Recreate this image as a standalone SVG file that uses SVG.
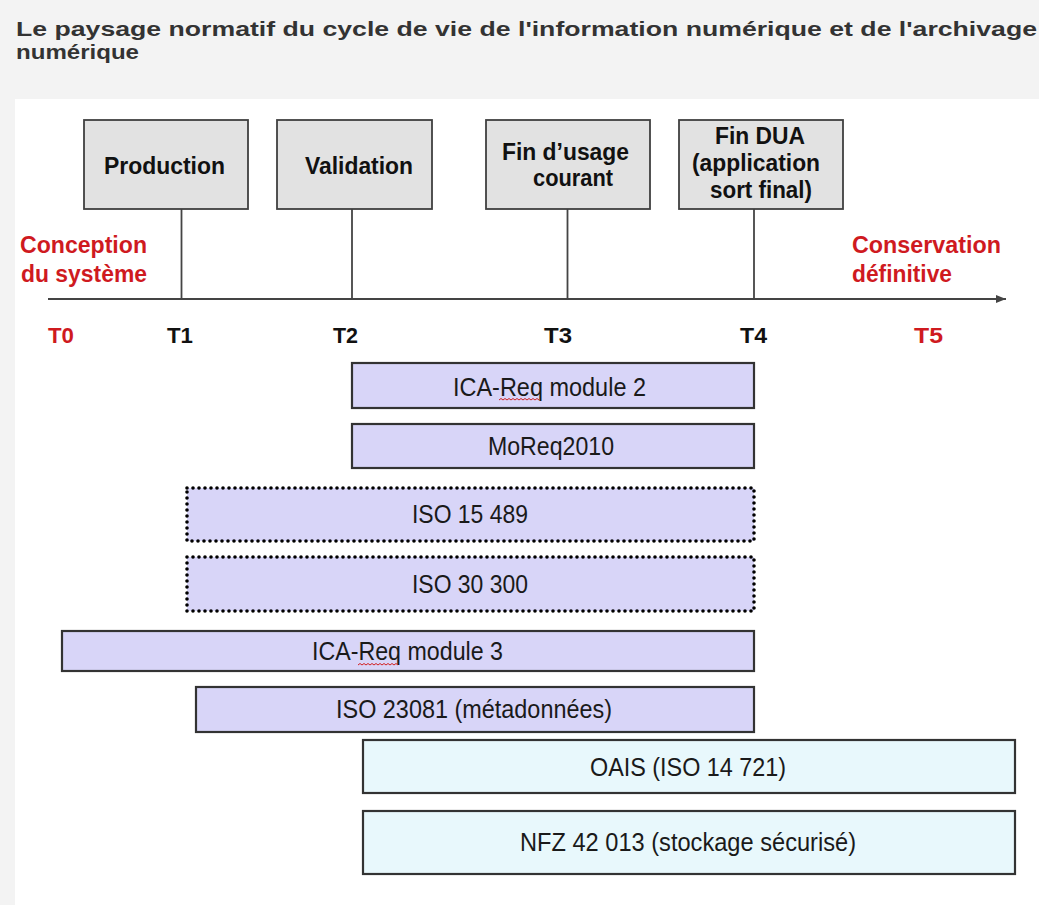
<svg xmlns="http://www.w3.org/2000/svg" width="1039" height="905" viewBox="0 0 1039 905">
<defs>
<style>
.bg{fill:#f3f3f3}
.panel{fill:#ffffff}
.title{font-family:"Liberation Sans",Arial,sans-serif;font-weight:bold;font-size:21px;fill:#333333}
.phase{fill:#e2e2e2;stroke:#404040;stroke-width:1.8}
.phase-t{font-family:"Liberation Sans",Arial,sans-serif;font-weight:bold;font-size:23px;fill:#111111}
.red{font-family:"Liberation Sans",Arial,sans-serif;font-weight:bold;font-size:23px;fill:#cf1a1f}
.tick{font-family:"Liberation Sans",Arial,sans-serif;font-weight:bold;font-size:22px;fill:#111111}
.redt{font-family:"Liberation Sans",Arial,sans-serif;font-weight:bold;font-size:22px;fill:#cf1a1f}
.conn{stroke:#444444;stroke-width:1.8;fill:none}
.lav{fill:#d8d5f8;stroke:#333333;stroke-width:2.2}
.lavdot{fill:#d8d5f8;stroke:#000000;stroke-width:3.6;stroke-dasharray:0 6;stroke-linecap:round}
.cyan{fill:#e8f8fc;stroke:#333333;stroke-width:2.2}
.bar-t{font-family:"Liberation Sans",Arial,sans-serif;font-size:25px;fill:#1a1a1a}
.squig{fill:none;stroke:#d02020;stroke-width:1}
</style>
<marker id="arrow" viewBox="0 0 10 8" refX="10" refY="4" markerWidth="10" markerHeight="8" markerUnits="userSpaceOnUse" orient="auto">
<path d="M0,0 L10,4 L0,8 Z" fill="#444444"/>
</marker>
</defs>

<rect class="bg" x="0" y="0" width="1039" height="905"/>
<rect class="panel" x="15" y="99" width="1024" height="806"/>

<g id="title">
<text class="title" x="16" y="35.5" textLength="1021" lengthAdjust="spacingAndGlyphs">Le paysage normatif du cycle de vie de l'information numérique et de l'archivage</text>
<text class="title" x="16" y="59" textLength="123" lengthAdjust="spacingAndGlyphs">numérique</text>
</g>

<g id="connectors">
<line class="conn" x1="48" y1="299" x2="1006" y2="299" marker-end="url(#arrow)"/>
<line class="conn" x1="181.5" y1="209" x2="181.5" y2="299"/>
<line class="conn" x1="352" y1="209" x2="352" y2="299"/>
<line class="conn" x1="567.5" y1="209" x2="567.5" y2="299"/>
<line class="conn" x1="754" y1="209" x2="754" y2="299"/>
</g>

<g id="production">
<rect class="phase" x="84" y="120" width="164" height="89"/>
<text class="phase-t" x="104" y="173.5" textLength="121" lengthAdjust="spacingAndGlyphs">Production</text>
</g>
<g id="validation">
<rect class="phase" x="277" y="120" width="155" height="89"/>
<text class="phase-t" x="305" y="173.5" textLength="108" lengthAdjust="spacingAndGlyphs">Validation</text>
</g>
<g id="fin-usage">
<rect class="phase" x="486" y="120" width="164" height="89"/>
<text class="phase-t" x="502" y="160" textLength="127" lengthAdjust="spacingAndGlyphs">Fin d’usage</text>
<text class="phase-t" x="533" y="186" textLength="80" lengthAdjust="spacingAndGlyphs">courant</text>
</g>
<g id="fin-dua">
<rect class="phase" x="679" y="120" width="164" height="89"/>
<text class="phase-t" x="715" y="144" textLength="90" lengthAdjust="spacingAndGlyphs">Fin DUA</text>
<text class="phase-t" x="692" y="171" textLength="128" lengthAdjust="spacingAndGlyphs">(application</text>
<text class="phase-t" x="710" y="198" textLength="102" lengthAdjust="spacingAndGlyphs">sort final)</text>
</g>

<g id="conception">
<text class="red" x="20" y="253" textLength="127" lengthAdjust="spacingAndGlyphs">Conception</text>
<text class="red" x="21" y="282" textLength="126" lengthAdjust="spacingAndGlyphs">du système</text>
</g>
<g id="conservation">
<text class="red" x="852" y="253" textLength="149" lengthAdjust="spacingAndGlyphs">Conservation</text>
<text class="red" x="852" y="282" textLength="100" lengthAdjust="spacingAndGlyphs">définitive</text>
</g>

<g id="ticks">
<text class="redt" x="48" y="343" textLength="26" lengthAdjust="spacingAndGlyphs">T0</text>
<text class="tick" x="167" y="343" textLength="26" lengthAdjust="spacingAndGlyphs">T1</text>
<text class="tick" x="333" y="343" textLength="25" lengthAdjust="spacingAndGlyphs">T2</text>
<text class="tick" x="544" y="343" textLength="28" lengthAdjust="spacingAndGlyphs">T3</text>
<text class="tick" x="740" y="343" textLength="27" lengthAdjust="spacingAndGlyphs">T4</text>
<text class="redt" x="914" y="343" textLength="29" lengthAdjust="spacingAndGlyphs">T5</text>
</g>

<g id="ica-req-2">
<rect class="lav" x="352" y="363" width="402" height="45"/>
<text class="bar-t" x="453" y="396" textLength="193" lengthAdjust="spacingAndGlyphs">ICA-Req module 2</text>
<path class="squig" d="M499,400 l2,-1.5 l2,1.5 l2,-1.5 l2,1.5 l2,-1.5 l2,1.5 l2,-1.5 l2,1.5 l2,-1.5 l2,1.5 l2,-1.5 l2,1.5 l2,-1.5 l2,1.5 l2,-1.5 l2,1.5 l2,-1.5 l2,1.5 l2,-1.5 l2,1.5"/>
</g>
<g id="moreq2010">
<rect class="lav" x="352" y="424" width="402" height="44"/>
<text class="bar-t" x="488" y="455" textLength="126" lengthAdjust="spacingAndGlyphs">MoReq2010</text>
</g>
<g id="iso-15489">
<rect class="lavdot" x="187" y="488" width="567" height="53"/>
<text class="bar-t" x="412" y="523" textLength="116" lengthAdjust="spacingAndGlyphs">ISO 15 489</text>
</g>
<g id="iso-30300">
<rect class="lavdot" x="187" y="557" width="567" height="54"/>
<text class="bar-t" x="412" y="593" textLength="116" lengthAdjust="spacingAndGlyphs">ISO 30 300</text>
</g>
<g id="ica-req-3">
<rect class="lav" x="62" y="631" width="692" height="40"/>
<text class="bar-t" x="312" y="660" textLength="191" lengthAdjust="spacingAndGlyphs">ICA-Req module 3</text>
<path class="squig" d="M358,665 l2,-1.5 l2,1.5 l2,-1.5 l2,1.5 l2,-1.5 l2,1.5 l2,-1.5 l2,1.5 l2,-1.5 l2,1.5 l2,-1.5 l2,1.5 l2,-1.5 l2,1.5 l2,-1.5 l2,1.5 l2,-1.5 l2,1.5 l2,-1.5 l2,1.5"/>
</g>
<g id="iso-23081">
<rect class="lav" x="196" y="687" width="558" height="45"/>
<text class="bar-t" x="336" y="718" textLength="276" lengthAdjust="spacingAndGlyphs">ISO 23081 (métadonnées)</text>
</g>
<g id="oais">
<rect class="cyan" x="363" y="740" width="652" height="53"/>
<text class="bar-t" x="590" y="776" textLength="196" lengthAdjust="spacingAndGlyphs">OAIS (ISO 14 721)</text>
</g>
<g id="nfz-42013">
<rect class="cyan" x="363" y="811" width="652" height="63"/>
<text class="bar-t" x="520" y="851" textLength="336" lengthAdjust="spacingAndGlyphs">NFZ 42 013 (stockage sécurisé)</text>
</g>
</svg>
